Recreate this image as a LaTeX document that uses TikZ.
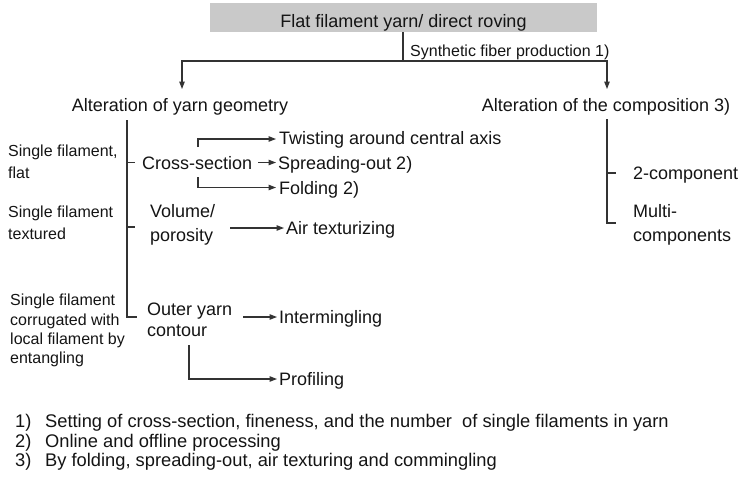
\documentclass[tikz,border=0pt]{standalone}
\usepackage{fontspec}
\setmainfont{Liberation Sans}
\usetikzlibrary{arrows.meta}
\begin{document}
\begin{tikzpicture}[x=1pt,y=-1pt,
  line/.style={draw=black!80, line width=1.1pt},
  arr/.style={line, -{Triangle[length=7.5pt,width=5.5pt]}},
  bigfont/.style={font=\fontsize{18}{24}\selectfont},
  midfont/.style={font=\fontsize{18}{21}\selectfont},
  smallfont/.style={font=\fontsize{16}{22}\selectfont},
  tightfont/.style={font=\fontsize{16}{19.3}\selectfont},
  notefont/.style={font=\fontsize{18.3}{20}\selectfont},
  lbl/.style={inner sep=0pt, anchor=base west, align=left, text=black!92},
  topbox/.style={fill=black!21, minimum width=387pt, minimum height=29pt,
    inner sep=0pt, text height=19pt, text depth=0pt, text=black!92, bigfont}]
\useasboundingbox (0,0) rectangle (740,480);

% source box and the split into two branches
\node[topbox] (top) at (403.5,17.5) {Flat filament yarn/ direct roving};
\node[lbl, smallfont] (synth) at (410,56.7) {Synthetic fiber production 1)};
\coordinate (split) at (403,61);
\coordinate (lft) at (182,61);
\coordinate (rgt) at (607,61);
\coordinate (geoin) at (182,89);
\coordinate (compin) at (607,89);
\node[lbl, bigfont, anchor=base] (geo) at (180,111.4) {Alteration of yarn geometry};
\node[lbl, bigfont, anchor=base] (comp) at (606,111.4) {Alteration of the composition 3)};
\draw[line] (top.south -| split) -- (split);
\draw[arr] (split) -- (lft) -- (geoin);
\draw[arr] (split) -- (rgt) -- (compin);

% left branch: filament types (base = last line)
\node[lbl, smallfont] (flat) at (8,178.7) {Single filament,\\flat};
\node[lbl, smallfont] (textured) at (8,239.7) {Single filament\\textured};
\node[lbl, tightfont] (corr) at (10,363.7) {Single filament\\corrugated with\\local filament by\\entangling};

% left branch: geometry parameters
\coordinate (lbar) at (127,120);
\coordinate (t1) at (127,162.5);
\coordinate (t2) at (127,227);
\coordinate (t3) at (127,317);
\node[lbl, bigfont] (cross) at (142,169) {Cross-section};
\node[lbl, bigfont] (vol) at (150,241.4) {Volume/\\porosity};
\node[lbl, midfont] (outer) at (147,336.4) {Outer yarn\\contour};
\draw[line] (lbar) -- (t3) -- ++(10,0);
\draw[line] (t1) -- ++(8,0);
\draw[line] (t2) -- ++(8,0);

% processes
\node[lbl, bigfont] (twist) at (279,144.4) {Twisting around central axis};
\node[lbl, bigfont] (spread) at (278,169.4) {Spreading-out 2)};
\node[lbl, bigfont] (fold) at (279,194.4) {Folding 2)};
\node[lbl, bigfont] (air) at (286,234.4) {Air texturizing};
\node[lbl, bigfont] (mingle) at (279,323.4) {Intermingling};
\node[lbl, bigfont] (prof) at (279,385.4) {Profiling};

\draw[arr] (198,147) -- (198,139) -- (276,139);
\draw[arr] (258,162.5) -- (276,162.5);
\draw[arr] (198,177) -- (198,187.5) -- (276,187.5);
\draw[arr] (230,228) -- (284,228);
\draw[arr] (243,317) -- (277,317);
\draw[arr] (189,345) -- (189,379) -- (277,379);

% right branch: composition
\coordinate (rbar) at (607,119);
\coordinate (r1) at (607,173);
\coordinate (r2) at (607,223);
\node[lbl, bigfont] (two) at (633,179.4) {2-component};
\node[lbl, bigfont] (multi) at (633,241.4) {Multi-\\components};
\draw[line] (rbar) -- (r2) -- ++(9,0);
\draw[line] (r1) -- ++(9,0);

% footnotes
\node[lbl, notefont] (n1) at (15,427.3) {\makebox[30pt][l]{1)}Setting of cross-section, fineness, and the number\ \ of single filaments in yarn};
\node[lbl, notefont] (n2) at (15,447.3) {\makebox[30pt][l]{2)}Online and offline processing};
\node[lbl, notefont] (n3) at (15,466.3) {\makebox[30pt][l]{3)}By folding, spreading-out, air texturing and commingling};
\end{tikzpicture}
\end{document}
